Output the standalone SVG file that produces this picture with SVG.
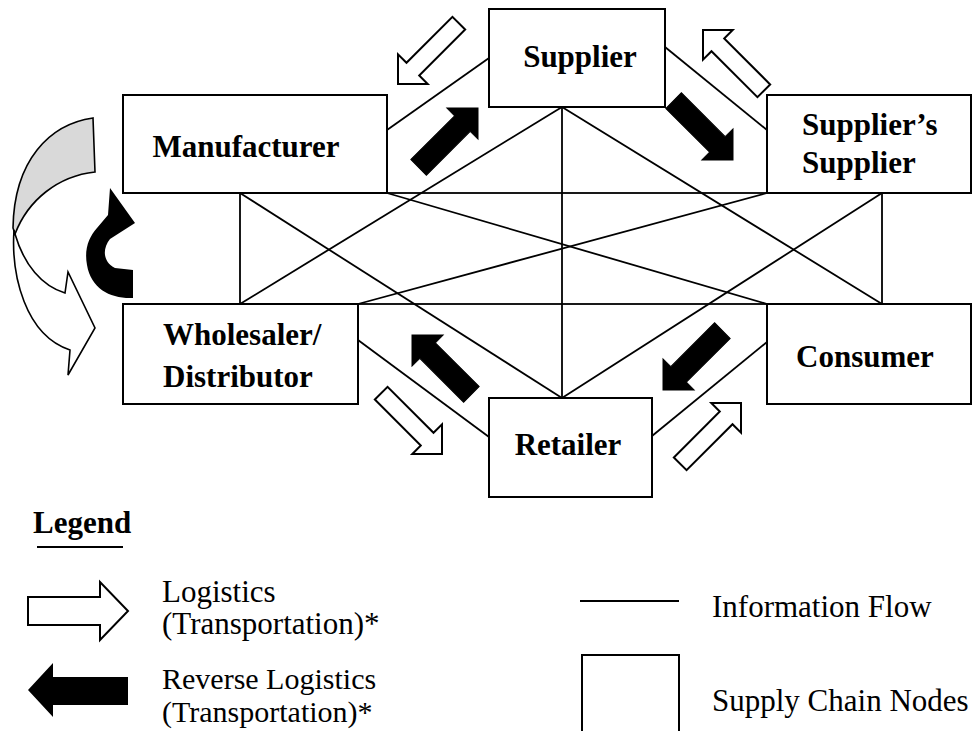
<svg xmlns="http://www.w3.org/2000/svg" xmlns:xlink="http://www.w3.org/1999/xlink" width="972" height="731" viewBox="0 0 972 731">
<style>
.box{fill:#fff;stroke:#000;stroke-width:2}
.lbl{font-family:"Liberation Serif","Times New Roman",serif;font-weight:bold;font-size:31px;fill:#000}
.leg{font-family:"Liberation Serif","Times New Roman",serif;font-size:31px;fill:#000}
.info{stroke:#000;stroke-width:1.8;fill:none}
.blk{fill:#000;stroke:#000;stroke-width:1}
.wht{fill:#fff;stroke:#000;stroke-width:2;stroke-linejoin:miter}
</style>
<defs>
<path id="ba" d="M0,0 L-22,-22 L-22,-11 L-84,-11 L-84,11 L-22,11 L-22,22 Z"/>
<path id="wa" d="M0,0 L-21,-21 L-21,-9 L-86,-9 L-86,9 L-21,9 L-21,21 Z"/>
</defs>
<rect width="972" height="731" fill="#fff"/>
<g id="connectors" class="info">
<rect x="240" y="193" width="642" height="111"/>
<line x1="240" y1="193" x2="562" y2="398"/>
<line x1="240" y1="304" x2="562" y2="107"/>
<line x1="882" y1="193" x2="562" y2="398"/>
<line x1="882" y1="304" x2="562" y2="107"/>
<line x1="387" y1="193" x2="767" y2="304"/>
<line x1="358" y1="304" x2="767" y2="193"/>
<line x1="562" y1="107" x2="562" y2="398"/>
<line x1="387" y1="130" x2="489" y2="58"/>
<line x1="665" y1="47" x2="767" y2="130"/>
<line x1="358" y1="340" x2="489" y2="437"/>
<line x1="652" y1="436" x2="767" y2="342"/>
</g>
<g id="flows">
<use href="#ba" class="blk" transform="translate(478,108) rotate(-45)"/>
<use href="#ba" class="blk" transform="translate(733,160) rotate(45)"/>
<use href="#ba" class="blk" transform="translate(412,335) rotate(-135)"/>
<use href="#ba" class="blk" transform="translate(663,390) rotate(135)"/>
<use href="#wa" class="wht" transform="translate(398,84) rotate(135)"/>
<use href="#wa" class="wht" transform="translate(703,30) rotate(-135)"/>
<use href="#wa" class="wht" transform="translate(442,454) rotate(45)"/>
<use href="#wa" class="wht" transform="translate(741,403) rotate(-45)"/>
<path d="M93,118 C50,124 14,160 13,228 L15,234 C28,200 58,176 95,172 Z" fill="#d9d9d9" stroke="#000" stroke-width="1.6"/>
<path d="M14,230 C11,275 25,335 70,350 L68,375 L95,328 L68,272 L65,293 C42,286 24,265 15,234 Z" fill="#fff" stroke="#000" stroke-width="1.6"/>
<path d="M133,298 C111,299 91,289 87,265 C84,249 89,237 97,228 L108,215 L110,188 L135,223 L110,239 C102,249 103,262 115,268 L133,270 Z" fill="#000"/>
</g>
<g id="supplier">
<rect class="box" x="489" y="9" width="176" height="98"/>
<text class="lbl" x="580" y="67" text-anchor="middle">Supplier</text>
</g>
<g id="manufacturer">
<rect class="box" x="123" y="95" width="264" height="98"/>
<text class="lbl" x="246" y="157" text-anchor="middle">Manufacturer</text>
</g>
<g id="suppliers-supplier">
<rect class="box" x="767" y="95" width="204" height="98"/>
<text class="lbl" x="802" y="135">Supplier’s<tspan x="802" y="173">Supplier</tspan></text>
</g>
<g id="wholesaler">
<rect class="box" x="123" y="304" width="235" height="100"/>
<text class="lbl" x="163" y="345">Wholesaler/<tspan x="163" y="387">Distributor</tspan></text>
</g>
<g id="consumer">
<rect class="box" x="767" y="304" width="204" height="100"/>
<text class="lbl" x="865" y="367" text-anchor="middle">Consumer</text>
</g>
<g id="retailer">
<rect class="box" x="489" y="398" width="163" height="99"/>
<text class="lbl" x="568" y="455" text-anchor="middle">Retailer</text>
</g>
<g id="legend">
<text class="lbl" x="33" y="533">Legend</text>
<line x1="37" y1="547" x2="123" y2="547" stroke="#000" stroke-width="2"/>
<path class="wht" d="M28,597 L100,597 L100,582 L128,611 L100,640 L100,625 L28,625 Z"/>
<text class="leg" x="162" y="602">Logistics<tspan x="162" y="634">(Transportation)*</tspan></text>
<path d="M28,690 L53,663 L53,677 L128,677 L128,705 L53,705 L53,717 Z" fill="#000"/>
<text class="leg" x="162" y="689" style="font-size:30px">Reverse Logistics<tspan x="162" y="722">(Transportation)*</tspan></text>
<line x1="580" y1="601" x2="679" y2="601" stroke="#000" stroke-width="2"/>
<text class="leg" x="712" y="617">Information Flow</text>
<rect class="box" x="582" y="655" width="97" height="90"/>
<text class="leg" x="712" y="711">Supply Chain Nodes</text>
</g>
</svg>
